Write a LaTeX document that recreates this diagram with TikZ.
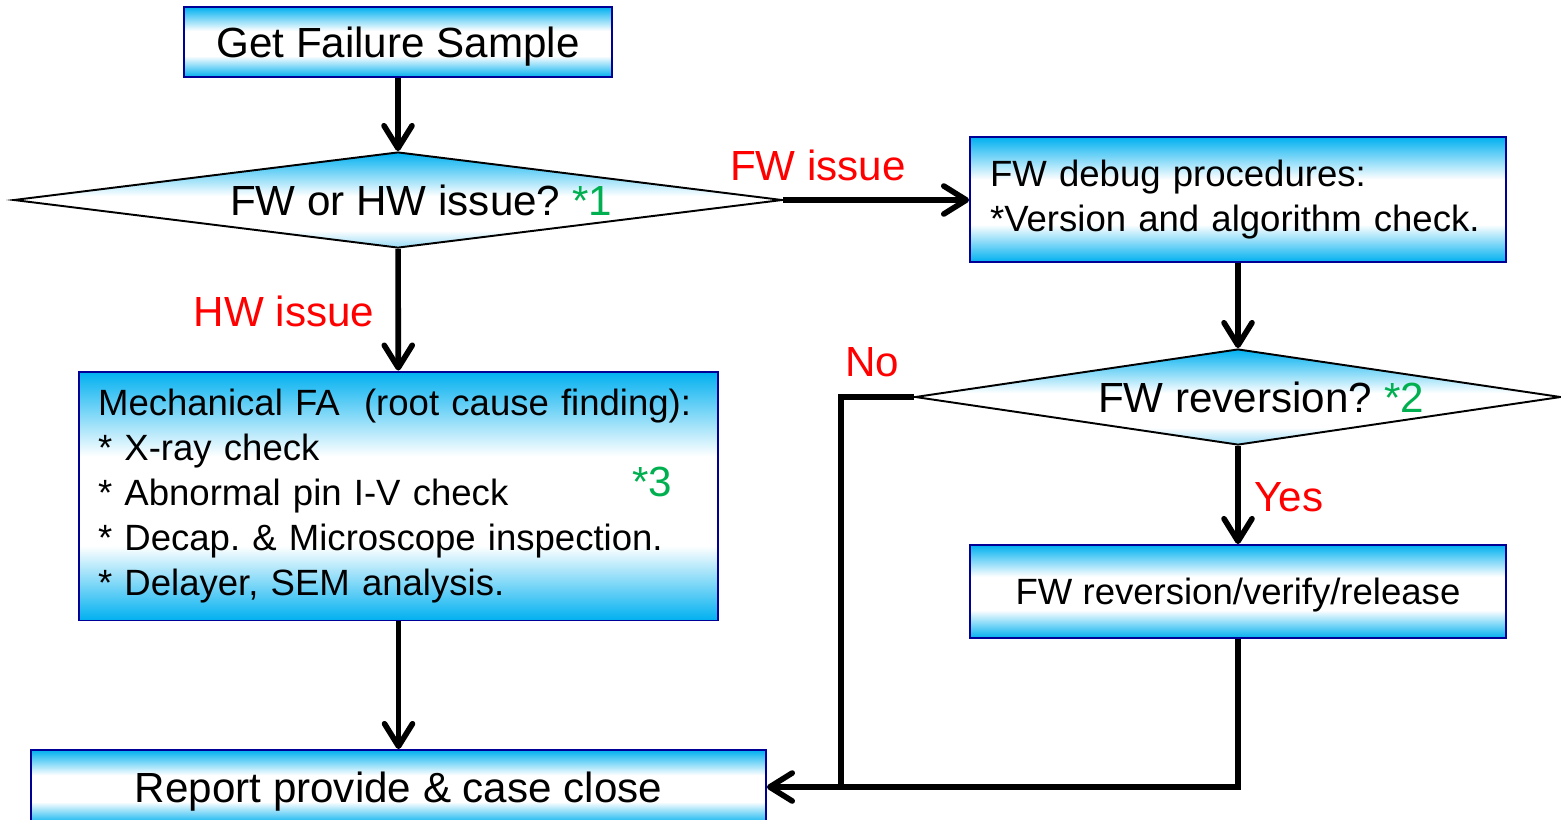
\documentclass[tikz,border=0pt]{standalone}
\usepackage{fontspec}
\setmainfont{Liberation Sans}
\usetikzlibrary{shapes.geometric,arrows.meta}
\definecolor{fwblue}{RGB}{0,176,240}
\definecolor{fwpale}{RGB}{150,218,246}
\definecolor{edgeblue}{RGB}{0,0,150}
\definecolor{notegreen}{RGB}{0,176,80}
\pgfdeclareverticalshading{boxfill}{100bp}{color(0bp)=(fwblue); color(25bp)=(fwblue); color(40bp)=(white); color(58bp)=(white); color(75bp)=(fwblue); color(100bp)=(fwblue)}
\pgfdeclareverticalshading{diafill}{100bp}{color(0bp)=(fwpale); color(25bp)=(fwpale); color(34bp)=(white); color(52bp)=(white); color(75bp)=(fwblue); color(100bp)=(fwblue)}
\frenchspacing
\begin{document}
\begin{tikzpicture}[
  x=0.02cm, y=-0.02cm,
  every node/.style={font=\fontsize{24}{29}\selectfont},
  procbox/.style={draw=edgeblue,line width=1.1pt,shade,shading=boxfill,inner sep=0pt},
  oneline/.style={text depth=0pt},
  decision/.style={diamond,draw=black,line width=1.1pt,shade,shading=diafill,inner sep=0pt},
  small/.style={font=\fontsize{20.8}{25.5}\selectfont},
  flow/.style={line width=3.2pt,-{Straight Barb[length=0.45cm,width=0.56cm,round]}},
  wire/.style={line width=3.2pt},
  branch/.style={text=red},
  note/.style={text=notegreen}
]
\useasboundingbox (0,0) rectangle (1561,819);
\clip (0,0) rectangle (1561,819);

% boxes and decisions
\node[procbox,oneline,minimum width=8.56cm,minimum height=1.4cm] (start) at (398,42) {Get Failure Sample};
\node[decision,aspect=8,minimum width=15.38cm,minimum height=1.92cm] (hwfw) at (398,200)
  {\hspace*{0.92cm}FW or HW issue? \textcolor{notegreen}{*1}};
\node[procbox,small,minimum width=10.72cm,minimum height=2.5cm,text width=9.92cm,align=left] (fwdebug) at (1238,199.5)
  {FW debug procedures:\\{}*Version and algorithm check.};
\node[decision,aspect=6.7,minimum width=12.92cm,minimum height=1.92cm] (fwrev) at (1238,397)
  {\hspace*{0.92cm}FW reversion? \textcolor{notegreen}{*2}};
\node[procbox,small,oneline,minimum width=10.72cm,minimum height=1.86cm] (fwrelease) at (1238,591.5) {FW reversion/verify/release};
\node[procbox,small,minimum width=12.78cm,minimum height=4.98cm,text width=12.02cm,align=left] (mechfa) at (398.5,496)
  {Mechanical FA\ \ (root cause finding):\\
   {}* X-ray check\\
   {}* Abnormal pin I-V check\\
   {}* Decap. \& Microscope inspection.\\
   {}* Delayer, SEM analysis.};
\node[note] (note3) at (652,482) {*3};
\node[procbox,oneline,minimum width=14.7cm,minimum height=1.48cm] (report) at (398.5,787) {Report provide \& case close};

% branch labels
\node[branch] (fwlbl) at (818,165) {FW issue};
\node[branch] (hwlbl) at (284,311) {HW issue};
\node[branch] (nolbl) at (872,362) {No};
\node[branch] (yeslbl) at (1289,497) {Yes};

% connectors
\draw[flow] (start) -- (hwfw);
\draw[flow] (hwfw.east) -- (hwfw.east -| fwdebug.west);
\draw[flow] (hwfw) -- (mechfa);
\draw[flow] (mechfa) -- (report);
\draw[flow] (fwdebug) -- (fwrev);
\draw[flow] (fwrev) -- (fwrelease);
\draw[flow] (fwrelease.south) |- (report.east);
\coordinate (nojoin) at (841,787);
\draw[wire] (fwrev.west) -| (nojoin);
\end{tikzpicture}
\end{document}
